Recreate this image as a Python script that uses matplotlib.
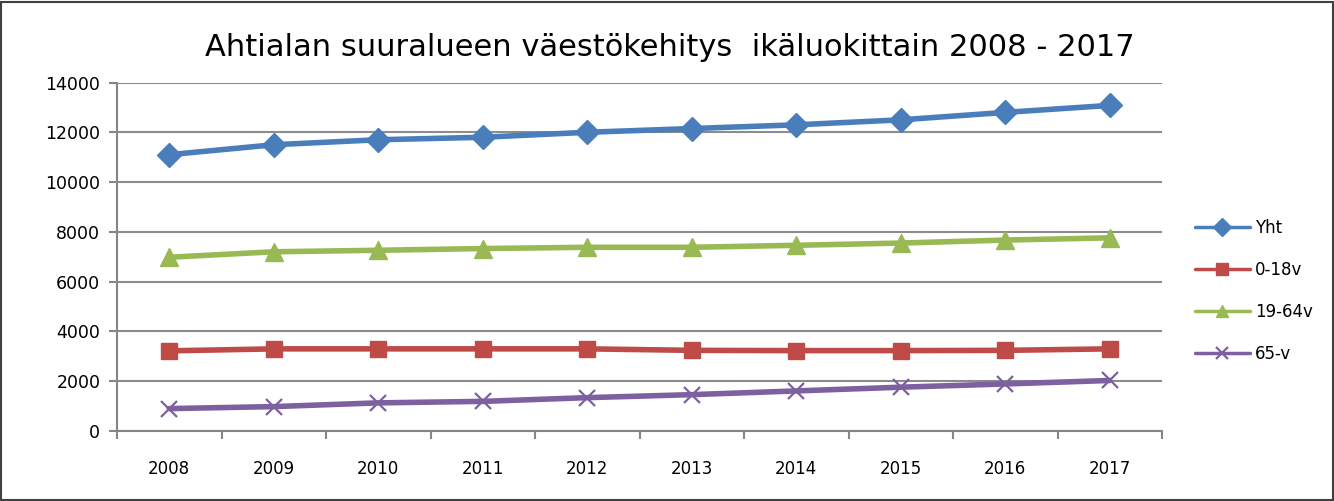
import matplotlib
matplotlib.use("Agg")
import matplotlib.pyplot as plt
from matplotlib.patches import Rectangle
from matplotlib.ticker import FixedLocator

years = ["2008", "2009", "2010", "2011", "2012", "2013", "2014", "2015", "2016", "2017"]
yht = [11100, 11500, 11700, 11800, 12000, 12150, 12300, 12500, 12800, 13080]
v0_18 = [3220, 3300, 3300, 3300, 3300, 3240, 3230, 3230, 3240, 3300]
v19_64 = [6980, 7200, 7260, 7330, 7380, 7380, 7460, 7550, 7670, 7760]
v65 = [900, 980, 1130, 1190, 1340, 1460, 1610, 1760, 1890, 2030]

series = [
    ("Yht", yht, "#4A7EBB", "D", 12),
    ("0-18v", v0_18, "#BE4B48", "s", 12),
    ("19-64v", v19_64, "#98B954", "^", 13),
    ("65-v", v65, "#7D60A0", "x", 11),
]

fig = plt.figure(figsize=(13.34, 5.01), dpi=100)
ax = fig.add_axes([117/1334, 1-431/501, (1162-117)/1334, (431-82.5)/501])

x = list(range(len(years)))
handles = []
for name, vals, col, mk, ms in series:
    if mk == "x":
        h, = ax.plot(x, vals, color=col, lw=4, marker=mk, ms=ms, mew=1.6,
                     mec=col, label=name, solid_capstyle="round")
    else:
        h, = ax.plot(x, vals, color=col, lw=4, marker=mk, ms=ms, mfc=col,
                     mec=col, label=name, solid_capstyle="round")
    handles.append(h)

ax.set_xlim(-0.5, len(years) - 0.5)
ax.set_ylim(0, 14000)
ax.set_yticks(range(0, 14001, 2000))
ax.set_yticklabels([str(v) for v in range(0, 14001, 2000)])
ax.set_xticks(x)
ax.set_xticklabels(years)
ax.xaxis.set_minor_locator(FixedLocator([i - 0.5 for i in range(len(years) + 1)]))
ax.tick_params(axis="x", which="major", length=0, pad=21, labelsize=12)
ax.tick_params(axis="x", which="minor", length=6, width=1.5, color="#868686", direction="out")
ax.tick_params(axis="y", which="major", length=6, width=1.5, color="#868686", pad=6, labelsize=12.5)
for lab in ax.get_xticklabels() + ax.get_yticklabels():
    lab.set_fontfamily("DejaVu Sans")

ax.grid(axis="y", color="#8C8C8C", lw=1.5)
ax.set_axisbelow(True)
for s in ["top", "right"]:
    ax.spines[s].set_visible(False)
ax.spines["left"].set_color("#868686")
ax.spines["left"].set_linewidth(1.5)
ax.spines["bottom"].set_color("#868686")
ax.spines["bottom"].set_linewidth(1.5)

fig.text(670/1334, 1-47/501, "Ahtialan suuralueen väestökehitys  ikäluokittain 2008 - 2017",
         ha="center", va="center", fontsize=22, family="DejaVu Sans")

leg = fig.legend(handles=handles, loc="upper left", bbox_to_anchor=(1188/1334, 1-212/501),
                 frameon=False, fontsize=12, handlelength=3.3, labelspacing=1.45,
                 handletextpad=0.3, borderaxespad=0)
for h in leg.legend_handles:
    h.set_linewidth(2.5)
    h.set_markersize(9)

fig.patches.append(Rectangle((1/1334, 1/501), 1-2/1334, 1-3/501, transform=fig.transFigure,
                             fill=False, edgecolor="#404040", lw=1.5))

fig.savefig("out.png", dpi=100)
